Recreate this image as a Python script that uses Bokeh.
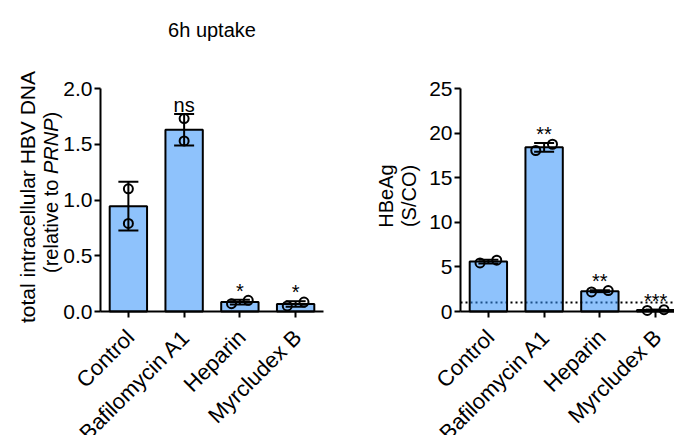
import numpy as np
from bokeh.plotting import figure
from bokeh.models import (ColumnDataSource, Range1d, FixedTicker, NumeralTickFormatter,
                          Whisker, TeeHead, Label, LabelSet)
from bokeh.layouts import row
from bokeh.embed import file_html
from bokeh.resources import INLINE
from bokeh.core.properties import value

# ---------------- data ----------------
categories = ["Control", "Bafilomycin A1", "Heparin", "Myrcludex B"]

dna_values = [[1.10, 0.79], [1.73, 1.53], [0.07, 0.10], [0.05, 0.085]]
dna_marks = ["", "ns", "*", "*"]
dna_ticks = [0.0, 0.5, 1.0, 1.5, 2.0]

hbeag_values = [[5.45, 5.75], [18.05, 18.75], [2.2, 2.35], [0.12, 0.2]]
hbeag_marks = ["", "**", "**", "***"]
hbeag_ticks = [0, 5, 10, 15, 20, 25]
hbeag_cutoff = 1.0

title_text = "6h uptake"
dna_label_1 = "total intracellular HBV DNA"
dna_label_2 = ["(relative to ", "PRNP", ")"]
hbeag_label = ["HBeAg", "(S/CO)"]

# ---------------- layout / style ----------------
FONT = "Liberation Sans"
BAR_FILL = (50, 144, 250)
BAR_ALPHA = 0.55
H = 435            # canvas height (px)
AXIS_Y = 311       # canvas px of y = 0
FRAME_TOP = 88     # canvas px of top tick
PX_X = 55.75       # px per category slot


def make_panel(values, marks, ticks, width, axis_x, fmt, x_axis_end=None):
    n = len(categories)
    y_end = ticks[-1]
    py = (AXIS_Y - FRAME_TOP) / y_end
    x0 = -axis_x / PX_X
    x1 = (width - axis_x) / PX_X
    p = figure(width=width, height=H, x_range=Range1d(x0, x1),
               y_range=Range1d(-(H - AXIS_Y) / py, AXIS_Y / py),
               output_backend="svg", toolbar_location=None, title=None, min_border=0)
    p.outline_line_color = None
    p.grid.visible = False
    p.background_fill_color = "white"
    p.border_fill_color = "white"

    xs = np.arange(n) + 0.5
    means = [float(np.mean(v)) for v in values]
    sds = [float(np.std(v, ddof=1)) for v in values]

    p.vbar(x=xs, top=means, width=0.67, bottom=0, fill_color=BAR_FILL, fill_alpha=BAR_ALPHA,
           line_color="black", line_width=2)

    pts_x, pts_y = [], []
    for x, v in zip(xs, values):
        close = abs(v[0] - v[1]) * py < 12
        offs = [-0.15, 0.15] if close else [0.0, 0.0]
        for o, val in zip(offs, v):
            pts_x.append(x + o)
            pts_y.append(val)

    wsrc = ColumnDataSource(dict(base=xs, upper=[m + s for m, s in zip(means, sds)],
                                 lower=[m - s for m, s in zip(means, sds)]))
    p.add_layout(Whisker(base="base", upper="upper", lower="lower", source=wsrc,
                         line_color="black", line_width=2, level="annotation",
                         upper_head=TeeHead(size=20, line_width=2, line_color="black"),
                         lower_head=TeeHead(size=20, line_width=2, line_color="black")))

    p.scatter(pts_x, pts_y, marker="circle", size=9, fill_color=None,
              line_color="black", line_width=2, level="overlay")

    ssrc = ColumnDataSource(dict(x=xs, y=[m + s for m, s in zip(means, sds)], text=marks))
    p.add_layout(LabelSet(x="x", y="y", text="text", source=ssrc, y_offset=2,
                          text_align="center", text_baseline="alphabetic",
                          text_font=value(FONT), text_font_size="20px", text_color="black"))

    csrc = ColumnDataSource(dict(x=xs, y=[0] * n, text=categories))
    p.add_layout(LabelSet(x="x", y="y", text="text", source=csrc, angle=np.pi / 4,
                          x_offset=2, y_offset=-22, text_align="right", text_baseline="middle",
                          text_font=value(FONT), text_font_size="22px", text_color="black"))

    for ax in (p.xaxis[0], p.yaxis[0]):
        ax.fixed_location = 0
        ax.axis_line_width = 2
        ax.axis_line_color = "black"
        ax.major_tick_line_width = 2
        ax.major_tick_line_color = "black"
        ax.major_tick_out = 6
        ax.major_tick_in = 0
        ax.minor_tick_line_color = None

    p.xaxis.bounds = (0, x_axis_end if x_axis_end is not None else n)
    p.xaxis.ticker = FixedTicker(ticks=list(xs))
    p.xaxis.major_label_text_font_size = "0px"
    p.xaxis.major_label_overrides = {float(x): "" for x in xs}

    p.yaxis.bounds = (0, y_end)
    p.yaxis.ticker = FixedTicker(ticks=ticks)
    p.yaxis.formatter = NumeralTickFormatter(format=fmt)
    p.yaxis.major_label_text_font = FONT
    p.yaxis.major_label_text_font_size = "21px"
    p.yaxis.major_label_text_color = "black"
    p.yaxis.major_label_standoff = 2
    return p, y_end, x1


def lbl(p, y, text, x_off, y_off, align="center", style="normal", size="20px"):
    p.add_layout(Label(x=0, y=y, text=text, x_offset=x_off, y_offset=y_off, angle=np.pi / 2,
                       text_align=align, text_baseline="middle", text_font=FONT,
                       text_font_size=size, text_font_style=style, text_color="black"))


# ---------------- left panel ----------------
left, ly_end, _ = make_panel(dna_values, dna_marks, dna_ticks, 340, 100, "0.0")
left.add_layout(Label(x=len(categories) / 2, y=ly_end, y_offset=59, text=title_text,
                      text_align="center", text_baseline="alphabetic", text_font=FONT,
                      text_font_size="20px", text_color="black"))
mid = ly_end / 2
lbl(left, mid, dna_label_1, -73, 3, size="21px")
start = -73
lbl(left, mid, dna_label_2[0], -50, start, align="left")
lbl(left, mid, dna_label_2[1], -50, start + 98.9, align="left", style="italic")
lbl(left, mid, dna_label_2[2], -50, start + 98.9 + 55.6, align="left")

# ---------------- right panel ----------------
right, ry_end, rx1 = make_panel(hbeag_values, hbeag_marks, hbeag_ticks, 334, 120, "0",
                                x_axis_end=10)
right.line([0, rx1], [hbeag_cutoff, hbeag_cutoff], line_color="black", line_width=2,
           line_dash="2 3", level="underlay")
rmid = ry_end / 2
lbl(right, rmid, hbeag_label[0], -75, 4)
lbl(right, rmid, hbeag_label[1], -52, 4)

layout = row(left, right)
open("out.html", "w").write(file_html(layout, INLINE))
